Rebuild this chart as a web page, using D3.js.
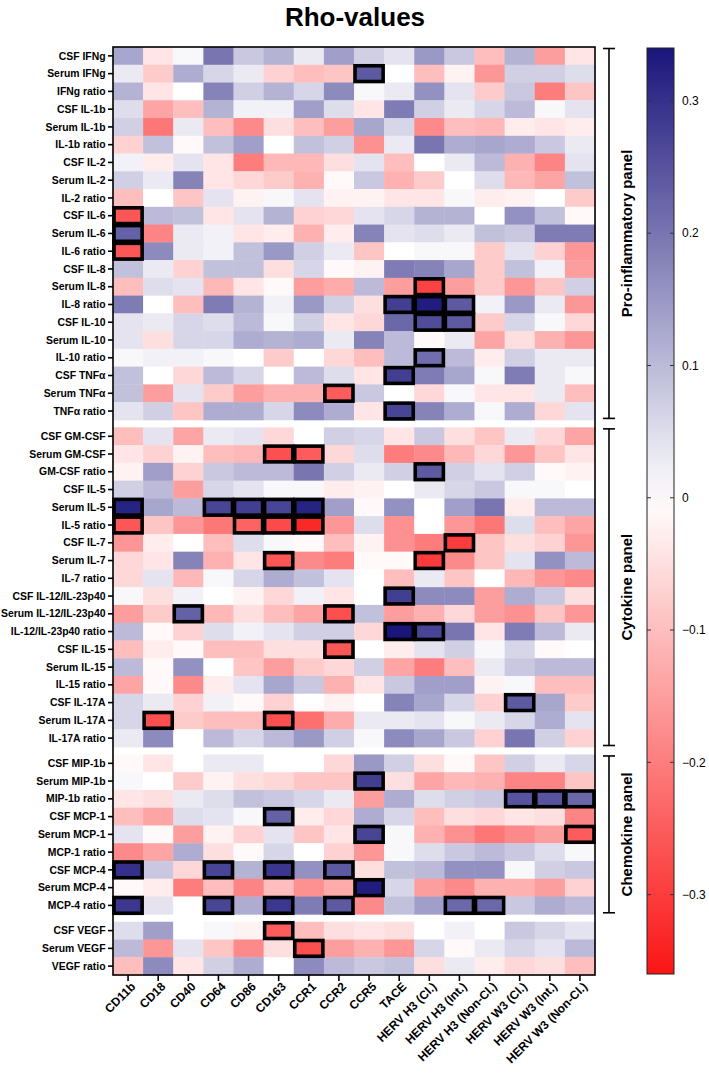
<!DOCTYPE html>
<html><head><meta charset="utf-8">
<script src="https://cdn.jsdelivr.net/npm/d3@7"></script>
<style>body{margin:0;background:#fff} text{font-family:"Liberation Sans",Arial,Helvetica,sans-serif}</style>
</head><body><svg id="chart" width="709" height="1075"></svg>
<script>
const columns = ["CD11b","CD18","CD40","CD64","CD86","CD163","CCR1","CCR2","CCR5","TACE","HERV H3 (Cl.)","HERV H3 (Int.)","HERV H3 (Non-Cl.)","HERV W3 (Cl.)","HERV W3 (Int.)","HERV W3 (Non-Cl.)"];

const proRows = ["CSF IFNg","Serum IFNg","IFNg ratio","CSF IL-1b","Serum IL-1b","IL-1b ratio","CSF IL-2","Serum IL-2","IL-2 ratio","CSF IL-6","Serum IL-6","IL-6 ratio","CSF IL-8","Serum IL-8","IL-8 ratio","CSF IL-10","Serum IL-10","IL-10 ratio","CSF TNFα","Serum TNFα","TNFα ratio"];
const proValues = [
[0.13,-0.04,0.01,0.20,0.08,0.11,0.03,0.14,0.07,0.04,0.15,0.08,-0.10,0.11,-0.15,-0.04],
[0.03,-0.08,0.12,0.06,0.03,-0.07,-0.10,-0.09,0.24,0.00,-0.10,-0.02,-0.16,0.07,0.07,0.05],
[0.11,-0.04,0.00,0.18,0.07,0.11,0.06,0.17,0.01,0.03,0.16,0.04,-0.08,0.08,-0.20,-0.09],
[0.05,-0.14,-0.10,0.11,0.02,0.02,0.14,0.05,-0.04,0.19,0.07,0.03,0.06,0.10,0.01,0.04],
[0.07,-0.21,0.03,-0.10,-0.18,-0.05,-0.10,-0.15,0.13,0.06,-0.18,-0.10,-0.11,-0.03,-0.04,-0.03],
[-0.07,0.09,-0.01,0.09,0.14,0.00,0.09,0.07,-0.17,0.03,0.20,0.12,0.13,0.12,0.08,0.03],
[0.02,-0.03,0.04,-0.04,-0.20,-0.11,-0.11,-0.05,0.04,-0.10,0.00,0.03,0.10,-0.12,-0.19,0.04],
[0.07,0.03,0.18,-0.04,-0.06,-0.08,-0.12,-0.01,0.08,-0.12,-0.08,0.00,0.05,-0.11,-0.14,0.09],
[-0.10,0.00,-0.09,0.04,-0.02,0.01,0.04,-0.02,-0.02,-0.04,-0.04,0.01,-0.03,-0.02,0.00,-0.08],
[-0.26,0.10,0.09,-0.04,0.04,0.11,-0.07,-0.06,0.04,0.06,0.11,0.11,0.00,0.16,0.09,-0.01],
[0.23,-0.19,0.03,0.02,-0.04,-0.03,-0.12,-0.03,0.18,0.04,0.05,0.03,0.09,0.08,0.19,0.19],
[-0.26,0.17,0.03,0.02,0.09,0.15,0.07,0.03,-0.09,0.00,0.01,0.01,-0.08,0.04,-0.07,-0.16],
[0.09,0.03,-0.07,0.09,0.09,-0.05,0.06,-0.01,-0.02,0.19,0.18,0.13,-0.08,0.09,0.02,-0.15],
[-0.10,0.05,0.04,-0.11,-0.04,-0.01,-0.15,-0.13,0.10,-0.15,-0.29,-0.15,-0.08,-0.16,-0.09,0.07],
[0.19,0.00,-0.10,0.19,0.11,0.02,0.15,0.07,-0.05,0.28,0.33,0.24,0.02,0.15,0.03,-0.16],
[0.04,0.03,0.06,0.05,0.10,0.01,0.07,-0.04,-0.06,0.22,0.26,0.24,-0.08,0.06,0.01,-0.06],
[0.04,-0.05,0.06,0.06,0.12,0.11,0.12,0.03,0.18,0.10,-0.01,0.03,-0.14,-0.05,-0.12,-0.16],
[0.01,0.02,0.02,0.01,0.00,-0.08,0.00,-0.06,-0.10,0.10,0.21,0.10,-0.03,0.07,0.03,0.03],
[0.09,0.00,-0.06,0.10,0.06,0.00,0.10,0.05,-0.04,0.28,0.19,0.13,0.01,0.19,0.03,0.01],
[0.09,-0.15,0.04,-0.08,-0.15,-0.12,-0.12,-0.25,0.08,0.00,-0.06,0.01,-0.04,-0.04,0.03,-0.10],
[0.04,0.07,-0.09,0.12,0.12,0.06,0.17,0.12,-0.04,0.27,0.18,0.12,0.01,0.12,-0.06,0.04]
];

const cytoRows = ["CSF GM-CSF","Serum GM-CSF","GM-CSF ratio","CSF IL-5","Serum IL-5","IL-5 ratio","CSF IL-7","Serum IL-7","IL-7 ratio","CSF IL-12/IL-23p40","Serum IL-12/IL-23p40","IL-12/IL-23p40 ratio","CSF IL-15","Serum IL-15","IL-15 ratio","CSF IL-17A","Serum IL-17A","IL-17A ratio"];
const cytoValues = [
[-0.10,0.04,-0.14,0.03,0.04,-0.06,0.00,0.07,0.06,-0.04,0.08,-0.05,-0.09,0.03,-0.06,-0.14],
[-0.04,-0.07,-0.02,-0.10,-0.11,-0.27,-0.25,-0.06,0.05,-0.20,-0.18,-0.11,-0.06,-0.16,-0.09,-0.04],
[-0.02,0.14,-0.07,0.08,0.10,0.10,0.20,0.07,0.03,0.07,0.24,0.07,0.04,0.07,-0.01,-0.02],
[0.07,0.10,-0.15,0.06,0.04,0.01,0.01,-0.03,-0.02,0.00,0.03,0.06,0.08,0.01,0.01,0.00],
[0.32,0.13,0.10,0.27,0.28,0.27,0.32,0.14,-0.01,0.16,0.00,0.14,0.20,-0.03,0.10,0.10],
[-0.26,-0.09,-0.16,-0.21,-0.24,-0.28,-0.33,-0.16,0.05,-0.17,0.00,-0.16,-0.21,0.05,-0.10,-0.14],
[-0.16,-0.03,0.00,-0.10,0.05,0.01,-0.01,-0.10,-0.02,-0.17,-0.20,-0.30,-0.09,-0.05,-0.07,-0.16],
[-0.06,-0.04,0.18,-0.12,-0.04,-0.26,-0.18,-0.20,-0.01,-0.01,-0.30,-0.18,-0.09,0.04,0.16,0.10],
[-0.06,0.04,-0.11,0.01,0.06,0.12,0.09,0.04,0.00,-0.10,0.03,-0.09,0.00,-0.11,-0.16,-0.18],
[0.01,-0.05,0.02,0.00,-0.02,-0.06,0.02,-0.04,0.00,0.28,0.17,0.17,-0.15,0.12,0.08,-0.05],
[-0.15,-0.08,0.23,-0.11,-0.05,-0.10,-0.14,-0.27,0.09,-0.15,-0.12,-0.06,-0.15,-0.17,-0.09,-0.16],
[0.10,-0.01,-0.07,0.05,0.02,0.04,0.07,0.07,-0.06,0.34,0.27,0.20,-0.04,0.19,0.10,0.03],
[-0.10,-0.03,-0.01,-0.10,-0.10,-0.05,-0.05,-0.26,0.00,-0.03,0.04,0.07,0.01,0.06,-0.01,0.00],
[0.10,-0.01,0.16,0.00,-0.09,-0.15,-0.08,-0.06,0.07,-0.14,-0.20,-0.10,0.03,0.08,0.10,0.10],
[-0.14,-0.01,-0.18,-0.03,0.04,0.13,0.08,-0.12,-0.04,0.08,0.14,0.14,-0.02,0.01,-0.10,-0.10],
[0.06,0.03,-0.07,0.02,-0.01,-0.07,0.00,-0.02,0.00,0.18,0.13,0.06,-0.07,0.24,0.13,-0.08],
[0.06,-0.27,-0.08,-0.10,-0.10,-0.27,-0.22,-0.13,0.03,0.03,0.04,0.01,0.03,0.06,0.12,0.04],
[0.03,0.17,0.00,0.10,0.06,0.10,0.15,0.07,0.01,0.17,0.13,0.08,-0.07,0.20,0.07,-0.07]
];

const chemoRows = ["CSF MIP-1b","Serum MIP-1b","MIP-1b ratio","CSF MCP-1","Serum MCP-1","MCP-1 ratio","CSF MCP-4","Serum MCP-4","MCP-4 ratio"];
const chemoValues = [
[-0.01,-0.04,0.00,0.03,0.03,0.00,0.00,-0.06,0.15,0.07,-0.05,-0.01,-0.09,0.07,0.03,0.06],
[0.01,0.00,-0.08,-0.02,-0.05,-0.06,-0.09,-0.09,0.28,-0.05,-0.14,-0.11,-0.12,-0.19,-0.19,-0.09],
[-0.04,-0.05,0.03,0.05,0.09,0.08,0.06,0.03,-0.15,0.12,0.05,0.07,0.08,0.25,0.25,0.22],
[-0.10,-0.14,0.05,0.04,0.01,0.23,-0.03,-0.06,0.12,0.06,-0.10,-0.05,-0.06,-0.04,-0.05,-0.19],
[0.04,-0.01,-0.15,-0.02,-0.07,0.04,-0.09,-0.04,0.27,0.01,-0.12,-0.17,-0.21,-0.18,-0.15,-0.25],
[-0.18,-0.14,0.12,-0.05,-0.01,0.06,0.00,-0.07,-0.16,0.01,0.05,0.08,0.10,0.08,0.05,0.01],
[0.30,0.08,-0.06,0.27,0.11,0.29,0.16,0.24,-0.05,0.09,0.10,0.16,0.16,0.01,0.07,0.08],
[-0.01,-0.03,-0.20,-0.10,-0.19,-0.10,-0.17,-0.13,0.33,0.06,-0.15,-0.18,-0.12,-0.12,-0.15,-0.07],
[0.29,0.04,0.00,0.27,0.12,0.29,0.19,0.24,-0.18,0.09,0.14,0.22,0.22,0.08,0.12,0.10]
];

const vegfRows = ["CSF VEGF","Serum VEGF","VEGF ratio"];
const vegfValues = [
[0.05,0.14,0.00,0.01,-0.02,-0.25,-0.10,-0.05,-0.04,-0.05,0.00,0.02,0.00,0.08,0.06,0.04],
[0.10,-0.16,0.04,-0.09,-0.18,-0.05,-0.27,-0.15,-0.12,-0.16,0.06,-0.01,0.03,0.06,0.04,0.10],
[-0.10,0.17,-0.04,0.07,0.12,0.00,0.17,0.10,0.08,0.09,-0.05,0.03,-0.03,-0.06,-0.05,-0.10]
];

// significant (boxed) cells: [row label, column label]
const highlighted = [
["Serum IFNg","CCR5"],["CSF IL-6","CD11b"],["Serum IL-6","CD11b"],["IL-6 ratio","CD11b"],
["Serum IL-8","HERV H3 (Cl.)"],["IL-8 ratio","TACE"],["IL-8 ratio","HERV H3 (Cl.)"],["IL-8 ratio","HERV H3 (Int.)"],
["CSF IL-10","HERV H3 (Cl.)"],["CSF IL-10","HERV H3 (Int.)"],["IL-10 ratio","HERV H3 (Cl.)"],
["CSF TNFα","TACE"],["Serum TNFα","CCR2"],["TNFα ratio","TACE"],
["Serum GM-CSF","CD163"],["Serum GM-CSF","CCR1"],["GM-CSF ratio","HERV H3 (Cl.)"],
["Serum IL-5","CD11b"],["Serum IL-5","CD64"],["Serum IL-5","CD86"],["Serum IL-5","CD163"],["Serum IL-5","CCR1"],
["IL-5 ratio","CD11b"],["IL-5 ratio","CD86"],["IL-5 ratio","CD163"],["IL-5 ratio","CCR1"],
["CSF IL-7","HERV H3 (Int.)"],["Serum IL-7","CD163"],["Serum IL-7","HERV H3 (Cl.)"],
["CSF IL-12/IL-23p40","TACE"],["Serum IL-12/IL-23p40","CD40"],["Serum IL-12/IL-23p40","CCR2"],
["IL-12/IL-23p40 ratio","TACE"],["IL-12/IL-23p40 ratio","HERV H3 (Cl.)"],["CSF IL-15","CCR2"],
["CSF IL-17A","HERV W3 (Cl.)"],["Serum IL-17A","CD18"],["Serum IL-17A","CD163"],
["Serum MIP-1b","CCR5"],["MIP-1b ratio","HERV W3 (Cl.)"],["MIP-1b ratio","HERV W3 (Int.)"],["MIP-1b ratio","HERV W3 (Non-Cl.)"],
["CSF MCP-1","CD163"],["Serum MCP-1","CCR5"],["Serum MCP-1","HERV W3 (Non-Cl.)"],
["CSF MCP-4","CD11b"],["CSF MCP-4","CD64"],["CSF MCP-4","CD163"],["CSF MCP-4","CCR2"],["Serum MCP-4","CCR5"],
["MCP-4 ratio","CD11b"],["MCP-4 ratio","CD64"],["MCP-4 ratio","CD163"],["MCP-4 ratio","CCR2"],["MCP-4 ratio","HERV H3 (Int.)"],["MCP-4 ratio","HERV H3 (Non-Cl.)"],
["CSF VEGF","CD163"],["Serum VEGF","CCR1"]
];

const colorTicks = [0.3,0.2,0.1,0,-0.1,-0.2,-0.3];
const colorDomain = [-0.36,0,0.34];
const colorRange = ["#fb1515","#ffffff","#1a157b"];
const panels = [
  {name:"Pro-inflammatory panel", from:"CSF IFNg", to:"TNFα ratio"},
  {name:"Cytokine panel", from:"CSF GM-CSF", to:"IL-17A ratio"},
  {name:"Chemokine panel", from:"CSF MIP-1b", to:"MCP-4 ratio"}
];

// ---------- drawing ----------
const svg = d3.select("#chart");
const X0 = 113, X1 = 595, Y0 = 47, Y1 = 975, GAP = 0.42;
const groups = [[proRows,proValues],[cytoRows,cytoValues],[chemoRows,chemoValues],[vegfRows,vegfValues]];
const rows = [];
groups.forEach(([labels,vals],gi) => labels.forEach((l,i) => rows.push({label:l, values:vals[i], group:gi, idx:rows.length})));
const nUnits = rows.length + (groups.length-1)*GAP;
const y = d3.scaleLinear().domain([0,nUnits]).range([Y0,Y1]);
const pos = d => d.idx + d.group*GAP;
const rowByLabel = new Map(rows.map(d => [d.label,d]));
const x = d3.scaleBand().domain(columns).range([X0,X1]);
const color = d3.scaleLinear().domain(colorDomain).range(colorRange);
const rh = y(1)-y(0);

svg.append("text").attr("x",355).attr("y",25.5).attr("text-anchor","middle")
  .attr("font-size",26).attr("font-weight","bold").text("Rho-values");

const cells = svg.append("g");
rows.forEach(r => {
  cells.selectAll(null).data(r.values).enter().append("rect")
    .attr("x",(v,i)=>x(columns[i])).attr("y",y(pos(r)))
    .attr("width",x.bandwidth()+0.4).attr("height",rh+0.4)
    .attr("fill",v=>color(v));
});

svg.append("rect").attr("x",X0).attr("y",Y0).attr("width",X1-X0).attr("height",Y1-Y0)
  .attr("fill","none").attr("stroke","#000").attr("stroke-width",1.6);

svg.append("g").selectAll("rect").data(highlighted).enter().append("rect")
  .attr("x",d=>x(d[1])+1).attr("y",d=>y(pos(rowByLabel.get(d[0])))+1)
  .attr("width",x.bandwidth()-2).attr("height",rh-2)
  .attr("fill","none").attr("stroke","#000").attr("stroke-width",3.6);

// y axis
const ya = svg.append("g");
rows.forEach(r => {
  const cy = y(pos(r)+0.5);
  ya.append("line").attr("x1",X0-5).attr("x2",X0).attr("y1",cy).attr("y2",cy).attr("stroke","#000").attr("stroke-width",1.6);
  ya.append("text").attr("x",X0-7.5).attr("y",cy).attr("dy","0.35em").attr("text-anchor","end")
    .attr("font-size",10.4).attr("font-weight","bold").text(r.label);
});

// x axis
const xa = svg.append("g").attr("transform",`translate(0,${Y1})`)
  .call(d3.axisBottom(x).tickSize(6).tickSizeOuter(0));
xa.select(".domain").remove();
xa.selectAll(".tick line").attr("stroke","#000").attr("stroke-width",1.6);
xa.selectAll(".tick text").attr("font-size",12).attr("font-weight","bold").attr("fill","#000")
  .attr("font-family","Liberation Sans, Arial, sans-serif")
  .attr("text-anchor","end").attr("dx","-0.25em").attr("dy","0.45em")
  .attr("transform","rotate(-45)");

// color bar
const CB = {x:647, w:27, y0:48, y1:974};
const cby = d3.scaleLinear().domain([colorDomain[0],colorDomain[2]]).range([CB.y1,CB.y0]);
const grad = svg.append("defs").append("linearGradient").attr("id","cbg")
  .attr("x1",0).attr("x2",0).attr("y1",1).attr("y2",0);
d3.range(0,1.0001,0.05).forEach(t => {
  const v = colorDomain[0] + t*(colorDomain[2]-colorDomain[0]);
  grad.append("stop").attr("offset",t).attr("stop-color",color(v));
});
svg.append("rect").attr("x",CB.x).attr("y",CB.y0).attr("width",CB.w).attr("height",CB.y1-CB.y0)
  .attr("fill","url(#cbg)").attr("stroke","#222").attr("stroke-width",1);
const cbt = svg.append("g");
colorTicks.forEach(v => {
  const ty = cby(v);
  cbt.append("line").attr("x1",CB.x).attr("x2",CB.x+4).attr("y1",ty).attr("y2",ty).attr("stroke","#333");
  cbt.append("line").attr("x1",CB.x+CB.w-4).attr("x2",CB.x+CB.w).attr("y1",ty).attr("y2",ty).attr("stroke","#333");
  cbt.append("text").attr("x",CB.x+CB.w+8).attr("y",ty).attr("dy","0.35em")
    .attr("font-size",12).text(v===0?"0":d3.format(".1f")(v));
});

// panel brackets
const BX = 609;
panels.forEach(p => {
  const a = y(pos(rowByLabel.get(p.from)))+1.5, b = y(pos(rowByLabel.get(p.to))+1)-1.5;
  const g = svg.append("g").attr("stroke","#000").attr("stroke-width",1.6);
  g.append("line").attr("x1",BX).attr("x2",BX).attr("y1",a).attr("y2",b);
  g.append("line").attr("x1",BX-6).attr("x2",BX+6).attr("y1",a).attr("y2",a);
  g.append("line").attr("x1",BX-6).attr("x2",BX+6).attr("y1",b).attr("y2",b);
  svg.append("text").attr("transform",`translate(${BX+23},${(a+b)/2}) rotate(-90)`)
    .attr("text-anchor","middle").attr("font-size",15).attr("font-weight","bold").text(p.name);
});
</script></body></html>
